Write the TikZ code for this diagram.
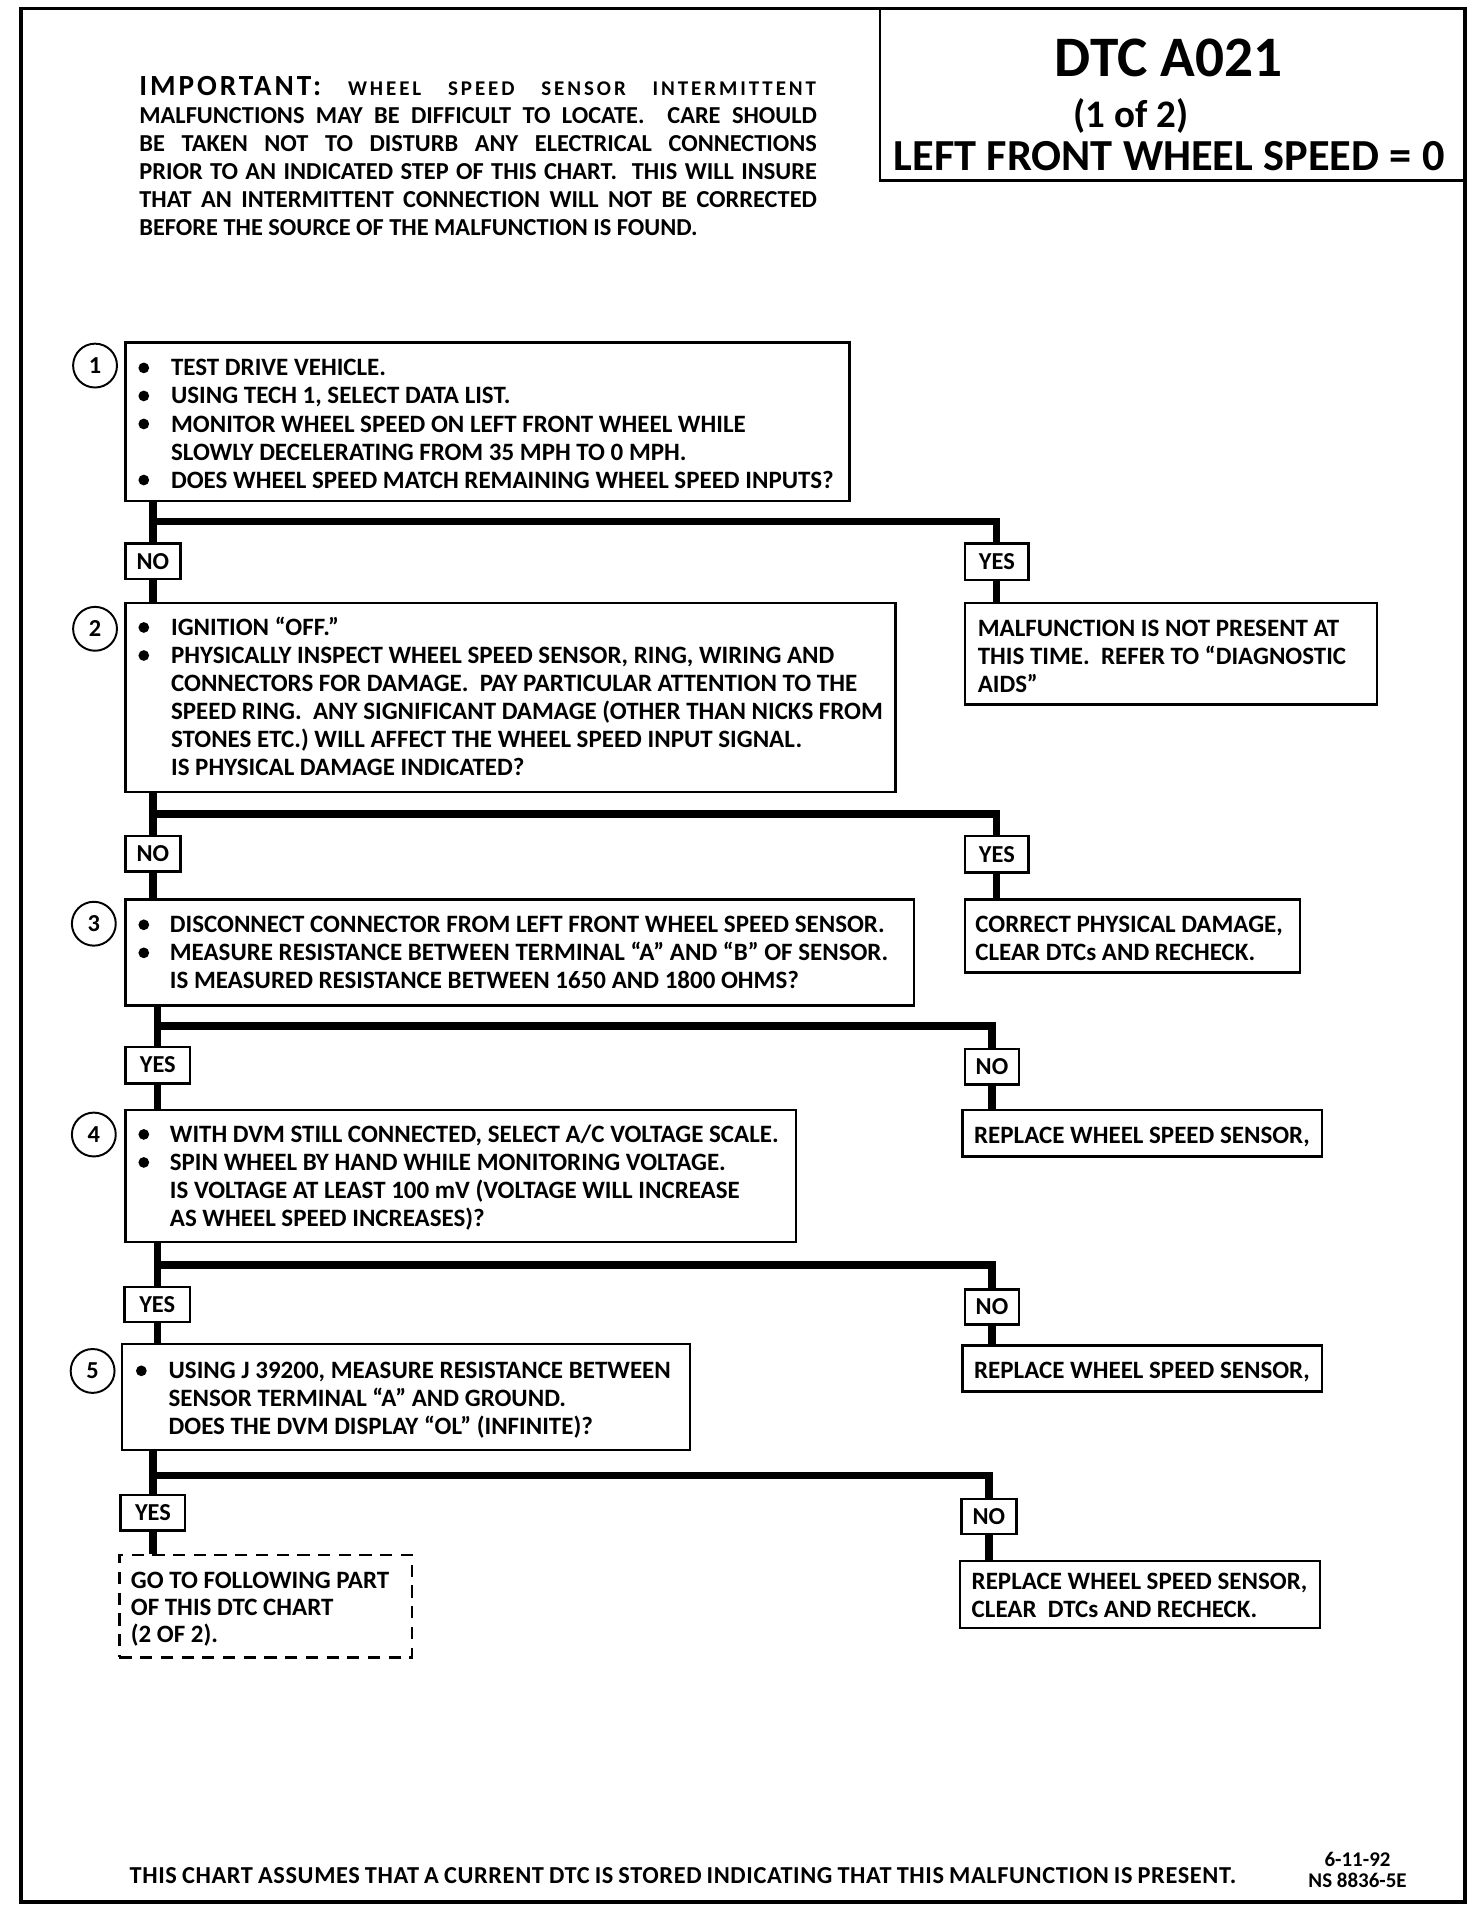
\documentclass[tikz,border=0pt]{standalone}
\usepackage{fontspec}
\setmainfont{Carlito}
\usetikzlibrary{fit}
\newcounter{lnc}\newcounter{buc}
\newcommand\Ln[3]{\stepcounter{lnc}\node[txt] (L\arabic{lnc}) at (#1,#2) {#3};}
\newcommand\Bu[2]{\stepcounter{buc}\node[bul] (B\arabic{buc}) at (#1,#2) {};}
\newcommand\Lab[6]{\node[lab, minimum width={(#4-#2)*0.5pt}, minimum height={(#5-#3)*0.5pt}] (#1) at ({(#2+#4)/2},{(#3+#5)/2}) {#6};}
\begin{document}
\begin{tikzpicture}[x=0.5pt,y=-0.5pt,
  box/.style={draw, line width=1pt, inner sep=0pt},
  dbox/.style={draw, line width=1pt, inner sep=0pt, dash pattern=on 5pt off 3.5pt},
  lab/.style={draw, line width=1pt, inner sep=0pt, font=\bfseries\fontsize{10}{12}\selectfont},
  txt/.style={anchor=base west, inner sep=0pt, font=\bfseries\fontsize{10.25}{12}\selectfont},
  bul/.style={circle, fill, inner sep=0pt, minimum size=4.4pt, yshift=3.3pt},
  numc/.style={circle, draw, line width=0.8pt, minimum size=18pt, inner sep=0pt, font=\bfseries\fontsize{10}{12}\selectfont},
  conn/.style={line width=3pt}]
\useasboundingbox (0,0) rectangle (1208,1569);
% frame and title box
\node[draw, line width=1.5pt, inner sep=0pt, fit={(17,7) (1202,1561)}] (F) {};
\node[box, fit={(722,7) (1202,148)}] (T) {};
\node[anchor=base, inner sep=0pt, font=\bfseries\fontsize{23.5}{26}\selectfont] (T1) at (959,63) {DTC A021};
\node[anchor=base, inner sep=0pt, font=\bfseries\fontsize{16}{18}\selectfont] (T2) at (928,105) {(1 of 2)};
\node[anchor=base west, inner sep=0pt, font=\bfseries\fontsize{18.2}{20}\selectfont] (T3) at (733,140) {\makebox[226pt][s]{LEFT FRONT WHEEL SPEED = 0}};
% important note
\node[txt, font=\bfseries\fontsize{12}{14}\selectfont\addfontfeatures{LetterSpace=10}] (IMP) at (114,78.5) {IMPORTANT:};
\node[txt, anchor=base east, font=\bfseries\fontsize{8.6}{10}\selectfont\addfontfeatures{LetterSpace=14}] (IMP2) at (670,78.5) {\makebox[192pt][s]{WHEEL SPEED SENSOR INTERMITTENT}};
\node[txt, font=\bfseries\fontsize{10}{12}\selectfont] (IMP3) at (114,101.5) {\makebox[278pt][s]{MALFUNCTIONS MAY BE DIFFICULT TO LOCATE.\ \ CARE SHOULD}};
\node[txt, font=\bfseries\fontsize{10}{12}\selectfont] (IMP4) at (114,124.5) {\makebox[278pt][s]{BE TAKEN NOT TO DISTURB ANY ELECTRICAL CONNECTIONS}};
\node[txt, font=\bfseries\fontsize{10}{12}\selectfont] (IMP5) at (114,147.5) {\makebox[278pt][s]{PRIOR TO AN INDICATED STEP OF THIS CHART.\ \ THIS WILL INSURE}};
\node[txt, font=\bfseries\fontsize{10}{12}\selectfont] (IMP6) at (114,170.5) {\makebox[278pt][s]{THAT AN INTERMITTENT CONNECTION WILL NOT BE CORRECTED}};
\node[txt, font=\bfseries\fontsize{10}{12}\selectfont] (IMP7) at (114,193.5) {BEFORE THE SOURCE OF THE MALFUNCTION IS FOUND.};
% step 1
\node[box, fit={(103,281) (697,411)}] (S1) {};
\node[numc] (N1) at (78,300) {1};
\Bu{118}{308.5}\Ln{140}{308.5}{TEST DRIVE VEHICLE.}
\Bu{118}{331.5}\Ln{140}{331.5}{USING TECH 1, SELECT DATA LIST.}
\Bu{118}{354.5}\Ln{140}{354.5}{MONITOR WHEEL SPEED ON LEFT FRONT WHEEL WHILE}
\Ln{140}{377.5}{SLOWLY DECELERATING FROM 35 MPH TO 0 MPH.}
\Bu{118}{400.5}\Ln{140}{400.5}{DOES WHEEL SPEED MATCH REMAINING WHEEL SPEED INPUTS?}
\Lab{NO1}{103}{446}{148}{475}{NO}
\Lab{YES1}{792}{446}{844}{476}{YES}
% step 2
\node[box, fit={(103,495) (735,650)}] (S2) {};
\node[numc] (N2) at (78,516) {2};
\Bu{118}{521.5}\Ln{140}{521.5}{IGNITION “OFF.”}
\Bu{118}{544.5}\Ln{140}{544.5}{PHYSICALLY INSPECT WHEEL SPEED SENSOR, RING, WIRING AND}
\Ln{140}{567.5}{CONNECTORS FOR DAMAGE.\ \ PAY PARTICULAR ATTENTION TO THE}
\Ln{140}{590.5}{SPEED RING.\ \ ANY SIGNIFICANT DAMAGE (OTHER THAN NICKS FROM}
\Ln{140}{613.5}{STONES ETC.) WILL AFFECT THE WHEEL SPEED INPUT SIGNAL.}
\Ln{140}{636}{IS PHYSICAL DAMAGE INDICATED?}
\node[box, fit={(792,495) (1130,578)}] (M1) {};
\Ln{802}{522.5}{MALFUNCTION IS NOT PRESENT AT}
\Ln{802}{545.5}{THIS TIME.\ \ REFER TO “DIAGNOSTIC}
\Ln{802}{568.5}{AIDS”}
\Lab{NO2}{103}{686}{148}{715}{NO}
\Lab{YES2}{792}{686}{844}{716}{YES}
% step 3
\node[box, fit={(103,738) (750,825)}] (S3) {};
\node[numc] (N3) at (77,758) {3};
\Bu{118}{765.5}\Ln{139}{765.5}{DISCONNECT CONNECTOR FROM LEFT FRONT WHEEL SPEED SENSOR.}
\Bu{118}{788.5}\Ln{139}{788.5}{MEASURE RESISTANCE BETWEEN TERMINAL “A” AND “B” OF SENSOR.}
\Ln{139}{811}{IS MEASURED RESISTANCE BETWEEN 1650 AND 1800 OHMS?}
\node[box, fit={(792,738) (1067,798)}] (C1) {};
\Ln{800}{765.5}{CORRECT PHYSICAL DAMAGE,}
\Ln{800}{788.5}{CLEAR DTCs AND RECHECK.}
\Lab{YES3}{103}{859}{156}{889}{YES}
\Lab{NO3}{792}{861}{836}{890}{NO}
% step 4
\node[box, fit={(103,911) (653,1019)}] (S4) {};
\node[numc] (N4) at (77,931) {4};
\Bu{118}{937.5}\Ln{139}{937.5}{WITH DVM STILL CONNECTED, SELECT A/C VOLTAGE SCALE.}
\Bu{118}{960.5}\Ln{139}{960.5}{SPIN WHEEL BY HAND WHILE MONITORING VOLTAGE.}
\Ln{139}{983.5}{IS VOLTAGE AT LEAST 100 mV (VOLTAGE WILL INCREASE}
\Ln{139}{1006.5}{AS WHEEL SPEED INCREASES)?}
\node[box, fit={(790,911) (1085,949)}] (R1) {};
\Ln{799}{938.5}{REPLACE WHEEL SPEED SENSOR,}
\Lab{YES4}{102}{1056}{156}{1085}{YES}
\Lab{NO4}{792}{1058}{836}{1087}{NO}
% step 5
\node[box, fit={(100,1103) (566,1190)}] (S5) {};
\node[numc] (N5) at (76,1125) {5};
\Bu{116}{1131.5}\Ln{138}{1131.5}{USING J 39200, MEASURE RESISTANCE BETWEEN}
\Ln{138}{1154.5}{SENSOR TERMINAL “A” AND GROUND.}
\Ln{138}{1177}{DOES THE DVM DISPLAY “OL” (INFINITE)?}
\node[box, fit={(790,1104) (1085,1142)}] (R2) {};
\Ln{799}{1131.5}{REPLACE WHEEL SPEED SENSOR,}
\Lab{YES5}{99}{1227}{152}{1256}{YES}
\Lab{NO5}{789}{1230}{834}{1259}{NO}
\node[dbox, fit={(98,1276) (338,1360)}] (D1) {};
\Ln{107}{1303.5}{GO TO FOLLOWING PART}
\Ln{107}{1325.5}{OF THIS DTC CHART}
\Ln{107}{1347.5}{(2 OF 2).}
\node[box, fit={(788,1281) (1083,1336)}] (R3) {};
\Ln{797}{1304.5}{REPLACE WHEEL SPEED SENSOR,}
\Ln{797}{1327.5}{CLEAR\ \ DTCs AND RECHECK.}
% footer
\node[txt, font=\bfseries\fontsize{10}{12}\selectfont\addfontfeatures{LetterSpace=2.5}] (FT) at (106,1546) {\makebox[454pt][s]{THIS CHART ASSUMES THAT A CURRENT DTC IS STORED INDICATING THAT THIS MALFUNCTION IS PRESENT.}};
\node[anchor=base, inner sep=0pt, font=\bfseries\fontsize{8.6}{10}\selectfont] (FD) at (1114,1532) {6-11-92};
\node[anchor=base, inner sep=0pt, font=\bfseries\fontsize{8.6}{10}\selectfont] (FN) at (1114,1549) {NS 8836-5E};
% connectors
\coordinate (j1) at (125.5,428);
\coordinate (j2) at (125.5,668);
\coordinate (j3) at (129.5,842);
\coordinate (j4) at (129,1038);
\coordinate (j5) at (125.5,1211);
\draw[conn] (S1.south -| NO1.north) -- (NO1.north);
\draw[conn] (j1) -| (YES1.north);
\draw[conn] (NO1.south) -- (NO1.south |- S2.north);
\draw[conn] (YES1.south) -- (YES1.south |- M1.north);
\draw[conn] (S2.south -| NO2.north) -- (NO2.north);
\draw[conn] (j2) -| (YES2.north);
\draw[conn] (NO2.south) -- (NO2.south |- S3.north);
\draw[conn] (YES2.south) -- (YES2.south |- C1.north);
\draw[conn] (S3.south -| YES3.north) -- (YES3.north);
\draw[conn] (j3) -| (NO3.north);
\draw[conn] (YES3.south) -- (YES3.south |- S4.north);
\draw[conn] (NO3.south) -- (NO3.south |- R1.north);
\draw[conn] (S4.south -| YES4.north) -- (YES4.north);
\draw[conn] (j4) -| (NO4.north);
\draw[conn] (YES4.south) -- (YES4.south |- S5.north);
\draw[conn] (NO4.south) -- (NO4.south |- R2.north);
\draw[conn] (S5.south -| YES5.north) -- (YES5.north);
\draw[conn] (j5) -| (NO5.north);
\draw[conn] (YES5.south) -- (YES5.south |- D1.north);
\draw[conn] (NO5.south) -- (NO5.south |- R3.north);
\end{tikzpicture}
\end{document}
